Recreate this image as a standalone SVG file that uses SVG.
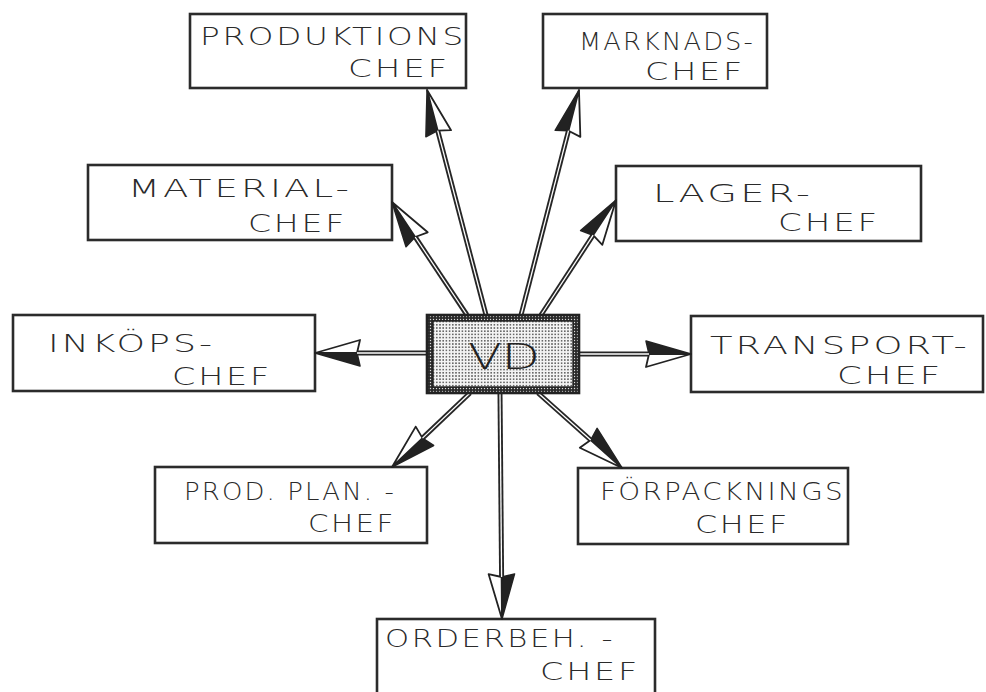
<svg xmlns="http://www.w3.org/2000/svg" width="986" height="692" viewBox="0 0 986 692">
  <style>
    .box { fill: #ffffff; stroke: #2b2b2b; stroke-width: 2.6; }
    .lbl { font-family: "DejaVu Sans", "Liberation Sans", sans-serif; font-weight: 200; font-size: 24px; letter-spacing: 2px; fill: #2a2a2a; }
    .vd { font-family: "DejaVu Sans", "Liberation Sans", sans-serif; font-weight: 200; font-size: 36px; fill: #222; }
    .shaft { stroke: #262626; stroke-width: 5; stroke-linecap: butt; fill: none; marker-end: url(#head); }
    .core { stroke: #ffffff; stroke-width: 1.3; stroke-linecap: butt; fill: none; }
  </style>
  <defs>
    <!-- half-dark, half-open arrowhead; origin at the notch, tip 42 ahead -->
    <marker id="head" markerUnits="userSpaceOnUse" orient="auto" refX="0" refY="0" markerWidth="60" markerHeight="40" viewBox="-10 -20 60 40" overflow="visible">
      <polygon points="42,0 -3,-13 0,0" fill="#222" stroke="#222" stroke-width="1.5" stroke-linejoin="round"/>
      <polygon points="42,0 0,0 -3,13" fill="#ffffff" stroke="#222" stroke-width="1.8" stroke-linejoin="round"/>
    </marker>
    <pattern id="dots" width="3.2" height="3.2" patternUnits="userSpaceOnUse">
      <rect width="3.2" height="3.2" fill="#f4f4f4"/>
      <circle cx="1.6" cy="1.6" r="0.8" fill="#3a3a3a"/>
    </pattern>
    <pattern id="band" width="3" height="3" patternUnits="userSpaceOnUse">
      <rect width="3" height="3" fill="#2a2a2a"/>
      <circle cx="1.5" cy="1.5" r="0.7" fill="#dddddd"/>
    </pattern>
  </defs>

  <rect width="986" height="692" fill="#ffffff"/>

  <!-- department heads -->
  <g id="produktionschef">
    <rect class="box" x="190" y="14" width="276" height="74"/>
    <text class="lbl" x="200" y="45" textLength="266" lengthAdjust="spacingAndGlyphs">PRODUKTIONS</text>
    <text class="lbl" x="348" y="77" textLength="102" lengthAdjust="spacingAndGlyphs">CHEF</text>
  </g>
  <g id="marknadschef">
    <rect class="box" x="543" y="14" width="224" height="74"/>
    <text class="lbl" x="579" y="50" textLength="176" lengthAdjust="spacingAndGlyphs">MARKNADS-</text>
    <text class="lbl" x="645" y="80" textLength="100" lengthAdjust="spacingAndGlyphs">CHEF</text>
  </g>
  <g id="materialchef">
    <rect class="box" x="88" y="165" width="304" height="75"/>
    <text class="lbl" x="128" y="197" textLength="224" lengthAdjust="spacingAndGlyphs">MATERIAL-</text>
    <text class="lbl" x="248" y="232" textLength="99" lengthAdjust="spacingAndGlyphs">CHEF</text>
  </g>
  <g id="lagerchef">
    <rect class="box" x="616" y="166" width="305" height="75"/>
    <text class="lbl" x="653" y="202" textLength="160" lengthAdjust="spacingAndGlyphs">LAGER-</text>
    <text class="lbl" x="778" y="231" textLength="102" lengthAdjust="spacingAndGlyphs">CHEF</text>
  </g>
  <g id="inkopschef">
    <rect class="box" x="13" y="315" width="302" height="76"/>
    <text class="lbl" x="48" y="352" textLength="167" lengthAdjust="spacingAndGlyphs">INKÖPS-</text>
    <text class="lbl" x="172" y="385" textLength="100" lengthAdjust="spacingAndGlyphs">CHEF</text>
  </g>
  <g id="transportchef">
    <rect class="box" x="691" y="316" width="292" height="76"/>
    <text class="lbl" x="710" y="354" textLength="260" lengthAdjust="spacingAndGlyphs">TRANSPORT-</text>
    <text class="lbl" x="837" y="384" textLength="106" lengthAdjust="spacingAndGlyphs">CHEF</text>
  </g>
  <g id="prodplanchef">
    <rect class="box" x="155" y="467" width="272" height="76"/>
    <text class="lbl" x="184" y="500" textLength="212" lengthAdjust="spacingAndGlyphs">PROD. PLAN. -</text>
    <text class="lbl" x="308" y="532" textLength="88" lengthAdjust="spacingAndGlyphs">CHEF</text>
  </g>
  <g id="forpackningschef">
    <rect class="box" x="578" y="468" width="270" height="76"/>
    <text class="lbl" x="600" y="500" textLength="245" lengthAdjust="spacingAndGlyphs">FÖRPACKNINGS</text>
    <text class="lbl" x="695" y="533" textLength="95" lengthAdjust="spacingAndGlyphs">CHEF</text>
  </g>
  <g id="orderbehchef">
    <rect class="box" x="377" y="619" width="278" height="82"/>
    <text class="lbl" x="385" y="647" textLength="230" lengthAdjust="spacingAndGlyphs">ORDERBEH. -</text>
    <text class="lbl" x="540" y="680" textLength="100" lengthAdjust="spacingAndGlyphs">CHEF</text>
  </g>

  <!-- reporting lines from the managing director -->
  <g id="connectors">
    <line class="shaft" x1="486" y1="315" x2="437.7" y2="130.6"/>
    <line class="core" x1="486" y1="315" x2="437.7" y2="130.6"/>
    <line class="shaft" x1="521" y1="315" x2="568.5" y2="130.7"/>
    <line class="core" x1="521" y1="315" x2="568.5" y2="130.7"/>
    <line class="shaft" x1="467" y1="315" x2="415.2" y2="237"/>
    <line class="core" x1="467" y1="315" x2="415.2" y2="237"/>
    <line class="shaft" x1="541" y1="315" x2="593.1" y2="235.2"/>
    <line class="core" x1="541" y1="315" x2="593.1" y2="235.2"/>
    <line class="shaft" x1="427" y1="353" x2="357" y2="353"/>
    <line class="core" x1="427" y1="353" x2="357" y2="353"/>
    <line class="shaft" x1="579" y1="354" x2="649" y2="354"/>
    <line class="core" x1="579" y1="354" x2="649" y2="354"/>
    <line class="shaft" x1="470" y1="393" x2="422.5" y2="438.1"/>
    <line class="core" x1="470" y1="393" x2="422.5" y2="438.1"/>
    <line class="shaft" x1="538" y1="393" x2="590.7" y2="440"/>
    <line class="core" x1="538" y1="393" x2="590.7" y2="440"/>
    <line class="shaft" x1="500" y1="393" x2="501.6" y2="577"/>
    <line class="core" x1="500" y1="393" x2="501.6" y2="577"/>
  </g>

  <!-- managing director -->
  <g id="vd">
    <rect x="427" y="315" width="152" height="78" fill="url(#band)" stroke="#222" stroke-width="2.6"/>
    <rect x="433" y="321" width="140" height="66" fill="url(#dots)" stroke="#222" stroke-width="1.4"/>
    <text class="vd" x="468" y="369" textLength="72" lengthAdjust="spacingAndGlyphs">VD</text>
  </g>
</svg>
